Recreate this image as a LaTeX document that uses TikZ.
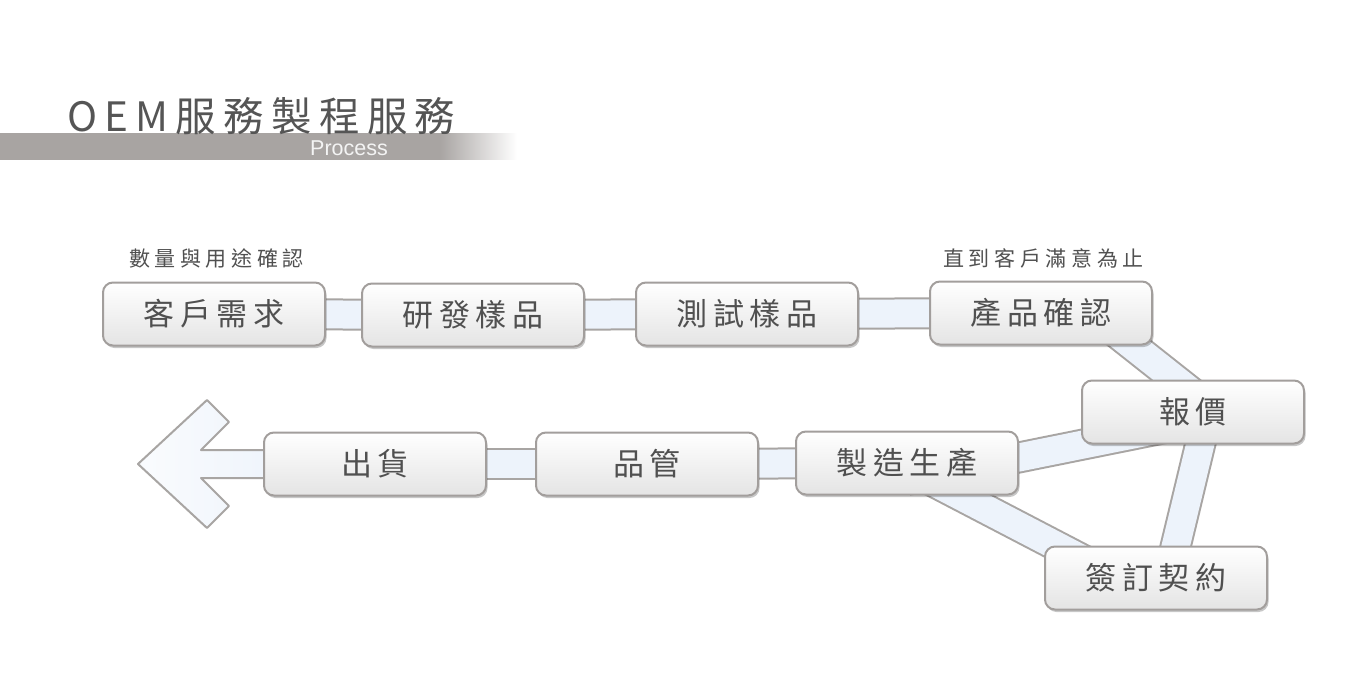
\documentclass[tikz,border=0pt]{standalone}
\usepackage{fontspec}
\newfontfamily\cjk[LetterSpace=19]{Noto Sans CJK TC}
\newfontfamily\cjksub[LetterSpace=22]{Noto Sans CJK TC}
\newfontfamily\titlef[LetterSpace=18]{Noto Sans CJK TC}
\newfontfamily\procf{Liberation Sans}
\usetikzlibrary{shadows}
\definecolor{boxborder}{HTML}{A29E9C}
\definecolor{boxbot}{HTML}{E4E4E4}
\definecolor{txt}{HTML}{505050}
\definecolor{titlecol}{HTML}{555555}
\definecolor{bandfill}{HTML}{EDF3FB}
\definecolor{bandline}{HTML}{A8A5A3}
\definecolor{barcol}{HTML}{A8A4A2}
\definecolor{proctxt}{HTML}{F4F4F4}
\pgfdeclarehorizontalshading{barfade}{100bp}{color(0bp)=(barcol); color(25bp)=(barcol); color(67.5bp)=(barcol); color(75bp)=(white); color(100bp)=(white)}
\tikzset{
  procbox/.style={draw=boxborder, line width=2pt, rounded corners=10pt,
    top color=white, bottom color=boxbot,
    minimum width=222pt, minimum height=63pt, inner sep=0pt,
    font=\cjk\fontsize{31}{31}\selectfont, text=txt,
    drop shadow={shadow xshift=1.5pt, shadow yshift=-2.5pt, opacity=0.22, fill=black}},
  band/.style={line width=2pt, draw=bandline, double=bandfill, double distance=28pt},
  arrowshape/.style={line width=2pt, draw=bandline, left color=white!70!bandfill, right color=bandfill, line join=round},
  subtxt/.style={font=\cjksub\fontsize{21}{21}\selectfont, text=txt, inner sep=0pt}
}
\begin{document}
\begin{tikzpicture}[x=1pt,y=-1pt]
\useasboundingbox (0,0) rectangle (1366,693);
\fill[white] (0,0) rectangle (1366,693);
% header
\shade[shading=barfade] (0,133) rectangle (517,159);
\node[anchor=base west, font=\titlef\fontsize{40.5}{40.5}\selectfont, text=titlecol, inner sep=0pt] (title) at (67,131) {OEM服務製程服務};
\node[anchor=base west, font=\procf\fontsize{21.5}{21.5}\selectfont, text=proctxt, inner sep=0pt] (proc) at (310,155) {Process};
% node positions
\coordinate (preq) at (214,314);
\coordinate (pdev) at (473,315);
\coordinate (ptest) at (747,314);
\coordinate (pconf) at (1041,313);
\coordinate (pquote) at (1193,412);
\coordinate (pprod) at (907,463);
\coordinate (pqc) at (647,464);
\coordinate (pship) at (375,464);
\coordinate (psign) at (1156,578);
% band anchors for diagonals
\coordinate (c1a) at (1090,312);
\coordinate (c1b) at (1200,399);
\coordinate (c2a) at (907,480);
\coordinate (c2b) at (1190,423);
\coordinate (c3a) at (1208,412);
\coordinate (c3b) at (1168,578);
\coordinate (c4a) at (907,468);
\coordinate (c4b) at (1120,579);
% arrow
\draw[arrowshape] (138,464) -- (207,400) -- (229,422) -- (201,450) -- (300,450) -- (300,478) -- (201,478) -- (229,506) -- (207,528) -- cycle;
% bands
\draw[band] (preq) -- (pdev);
\draw[band] (pdev) -- (ptest);
\draw[band] (ptest) -- (pconf);
\draw[band] (pship) -- (pqc);
\draw[band] (pqc) -- (pprod);
\draw[band] (c1a) -- (c1b);
\draw[band] (c2a) -- (c2b);
\draw[band] (c3a) -- (c3b);
\draw[band] (c4a) -- (c4b);
% boxes
\node[procbox] (req) at (preq) {\raisebox{-2pt}{客戶需求}};
\node[procbox] (dev) at (pdev) {\raisebox{-2pt}{研發樣品}};
\node[procbox] (test) at (ptest) {\raisebox{-2pt}{測試樣品}};
\node[procbox] (conf) at (pconf) {\raisebox{-2pt}{產品確認}};
\node[procbox] (quote) at (pquote) {\raisebox{-2pt}{報價}};
\node[procbox] (prod) at (pprod) {\raisebox{-2pt}{製造生產}};
\node[procbox] (qc) at (pqc) {\raisebox{-2pt}{品管}};
\node[procbox] (ship) at (pship) {\raisebox{-2pt}{出貨}};
\node[procbox] (sign) at (psign) {\raisebox{-2pt}{簽訂契約}};
% notes
\node[subtxt] (note1) at (216.5,258.5) {數量與用途確認};
\node[subtxt] (note2) at (1043.5,258.5) {直到客戶滿意為止};
\end{tikzpicture}
\end{document}
